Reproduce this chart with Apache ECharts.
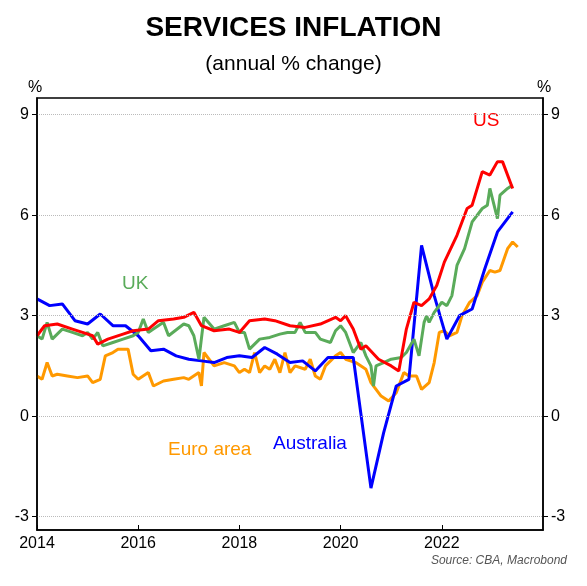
<!DOCTYPE html>
<html>
<head>
<meta charset="utf-8">
<script src="https://cdn.jsdelivr.net/npm/echarts@6/dist/echarts.min.js"></script>
<style>html,body{margin:0;background:#fff}#c{width:587px;height:586px}</style>
</head>
<body>
<div id="c"></div>
<script>
// [decimal year, annual % change]
const australia = [[2014.0,3.5],[2014.25,3.3],[2014.5,3.35],[2014.75,2.85],[2015.0,2.75],[2015.25,3.05],[2015.5,2.7],[2015.75,2.7],[2016.0,2.4],[2016.25,1.95],[2016.5,2.0],[2016.75,1.8],[2017.0,1.7],[2017.25,1.65],[2017.5,1.6],[2017.75,1.75],[2018.0,1.8],[2018.25,1.75],[2018.5,2.05],[2018.75,1.85],[2019.0,1.6],[2019.25,1.65],[2019.5,1.35],[2019.75,1.75],[2020.0,1.75],[2020.25,1.75],[2020.6,-2.15],[2020.85,-0.5],[2021.1,0.9],[2021.35,1.1],[2021.6,5.1],[2021.85,3.6],[2022.1,2.3],[2022.35,3.0],[2022.6,3.2],[2022.85,4.4],[2023.1,5.5],[2023.4,6.1]];
const us = [[2014.0,2.4],[2014.15,2.7],[2014.4,2.75],[2014.7,2.6],[2014.9,2.5],[2015.1,2.4],[2015.2,2.15],[2015.4,2.3],[2015.7,2.45],[2015.9,2.55],[2016.2,2.6],[2016.4,2.85],[2016.7,2.9],[2016.9,2.95],[2017.1,3.1],[2017.25,2.7],[2017.5,2.55],[2017.8,2.6],[2018.0,2.5],[2018.2,2.85],[2018.5,2.9],[2018.7,2.85],[2019.0,2.7],[2019.3,2.65],[2019.6,2.75],[2019.9,2.95],[2020.0,2.85],[2020.1,3.0],[2020.25,2.6],[2020.4,2.0],[2020.5,2.1],[2020.75,1.7],[2021.0,1.5],[2021.15,1.35],[2021.3,2.6],[2021.45,3.4],[2021.6,3.3],[2021.75,3.5],[2021.9,3.9],[2022.05,4.6],[2022.3,5.4],[2022.5,6.2],[2022.6,6.3],[2022.8,7.3],[2022.95,7.2],[2023.1,7.6],[2023.2,7.6],[2023.4,6.8]];
const uk = [[2014.0,2.4],[2014.1,2.3],[2014.2,2.8],[2014.3,2.3],[2014.5,2.6],[2014.7,2.5],[2014.9,2.4],[2015.0,2.5],[2015.1,2.3],[2015.2,2.5],[2015.3,2.1],[2015.5,2.2],[2015.7,2.3],[2015.9,2.4],[2016.0,2.5],[2016.1,2.9],[2016.2,2.5],[2016.3,2.6],[2016.5,2.8],[2016.6,2.4],[2016.9,2.75],[2017.0,2.7],[2017.1,2.4],[2017.2,1.7],[2017.3,2.95],[2017.5,2.6],[2017.7,2.7],[2017.9,2.8],[2018.0,2.5],[2018.1,2.5],[2018.2,2.0],[2018.4,2.3],[2018.6,2.35],[2018.8,2.45],[2018.95,2.5],[2019.1,2.5],[2019.2,2.8],[2019.3,2.5],[2019.5,2.5],[2019.6,2.3],[2019.8,2.2],[2019.9,2.55],[2020.0,2.7],[2020.1,2.5],[2020.25,1.9],[2020.4,2.2],[2020.5,1.8],[2020.6,1.5],[2020.65,0.9],[2020.7,1.5],[2020.85,1.6],[2021.0,1.7],[2021.2,1.75],[2021.3,1.9],[2021.45,2.3],[2021.55,1.8],[2021.65,2.8],[2021.7,3.0],[2021.75,2.8],[2021.85,3.1],[2022.0,3.4],[2022.1,3.3],[2022.2,3.6],[2022.3,4.5],[2022.45,5.0],[2022.6,5.8],[2022.8,6.2],[2022.9,6.3],[2022.95,6.8],[2023.1,5.9],[2023.15,6.6],[2023.3,6.8],[2023.4,6.9]];
const euro = [[2014.0,1.2],[2014.1,1.1],[2014.2,1.6],[2014.3,1.2],[2014.4,1.25],[2014.6,1.2],[2014.8,1.15],[2015.0,1.2],[2015.1,1.0],[2015.25,1.1],[2015.35,1.8],[2015.5,1.9],[2015.6,2.0],[2015.8,2.0],[2015.9,1.25],[2016.0,1.1],[2016.2,1.3],[2016.3,0.9],[2016.5,1.05],[2016.7,1.1],[2016.9,1.15],[2017.0,1.1],[2017.2,1.3],[2017.25,0.9],[2017.3,1.9],[2017.5,1.5],[2017.7,1.6],[2017.9,1.5],[2018.0,1.3],[2018.1,1.4],[2018.2,1.3],[2018.3,1.9],[2018.4,1.3],[2018.5,1.5],[2018.6,1.4],[2018.7,1.7],[2018.8,1.3],[2018.9,1.9],[2019.0,1.3],[2019.1,1.5],[2019.3,1.4],[2019.4,1.7],[2019.5,1.2],[2019.6,1.1],[2019.7,1.5],[2019.9,1.8],[2020.0,1.9],[2020.1,1.7],[2020.3,1.6],[2020.5,1.4],[2020.6,1.0],[2020.8,0.6],[2020.95,0.45],[2021.1,0.7],[2021.25,1.3],[2021.35,1.2],[2021.5,1.2],[2021.6,0.8],[2021.75,1.0],[2021.85,1.6],[2021.95,2.5],[2022.05,2.55],[2022.15,2.4],[2022.3,2.5],[2022.4,3.0],[2022.55,3.4],[2022.7,3.6],[2022.8,4.0],[2022.95,4.35],[2023.05,4.3],[2023.15,4.35],[2023.3,5.0],[2023.4,5.2],[2023.5,5.05]];
const yTicks = [-3, 0, 3, 6, 9];
const xTicks = [2014, 2016, 2018, 2020, 2022];

const chart = echarts.init(document.getElementById('c'));
const font = 'Liberation Sans, Arial, sans-serif';
const line = (name, data, color) => ({
    name, type: 'line', data, showSymbol: false, animation: false,
    lineStyle: { color, width: 3 }, itemStyle: { color }
});
const yAxisBase = {
    type: 'value', min: -3.4, max: 9.5,
    splitLine: { show: false },
    axisLine: { show: true, lineStyle: { color: '#000', width: 1.5 } },
    axisTick: { show: true, customValues: yTicks, length: 5, inside: false, lineStyle: { color: '#000' } },
    axisLabel: { customValues: yTicks, color: '#000', fontSize: 16, fontFamily: font }
};
const gridSeries = {
    type: 'line', data: [], silent: true,
    markLine: {
        symbol: 'none', silent: true, label: { show: false }, animation: false,
        lineStyle: { color: '#bbb', type: 'dotted', width: 1 },
        data: yTicks.map(v => ({ yAxis: v }))
    }
};

chart.setOption({
    backgroundColor: '#fff',
    animation: false,
    grid: { left: 37, right: 44, top: 98, bottom: 56 },
    xAxis: {
        type: 'value', min: 2014, max: 2024,
        splitLine: { show: false },
        axisLine: { show: true, onZero: false, lineStyle: { color: '#000', width: 1.5 } },
        axisTick: { customValues: xTicks, length: 5, inside: true, lineStyle: { color: '#000' } },
        axisLabel: { customValues: xTicks, formatter: v => String(v), color: '#000', fontSize: 16, fontFamily: font, margin: 6 }
    },
    yAxis: [
        { ...yAxisBase, position: 'left' },
        { ...yAxisBase, position: 'right' }
    ],
    series: [
        gridSeries,
        line('Euro area', euro, '#ff9900'),
        line('Australia', australia, '#0000ff'),
        line('UK', uk, '#5aab5a'),
        line('US', us, '#ff0000')
    ],
    graphic: [
        { type: 'rect', shape: { x: 37, y: 98, width: 506, height: 432 }, style: { fill: 'none', stroke: '#000', lineWidth: 1.5 }, z: 10 },
        { type: 'text', left: 'center', top: 14, style: { text: 'SERVICES INFLATION', font: 'bold 28px ' + font, fill: '#000' } },
        { type: 'text', left: 'center', top: 54, style: { text: '(annual % change)', font: '21px ' + font, fill: '#000' } },
        { type: 'text', left: 28, top: 80, style: { text: '%', font: '16px ' + font, fill: '#000' } },
        { type: 'text', left: 537, top: 80, style: { text: '%', font: '16px ' + font, fill: '#000' } },
        { type: 'text', left: 473, top: 111, style: { text: 'US', font: '19px ' + font, fill: '#ff0000' } },
        { type: 'text', left: 122, top: 274, style: { text: 'UK', font: '19px ' + font, fill: '#5aab5a' } },
        { type: 'text', left: 168, top: 440, style: { text: 'Euro area', font: '19px ' + font, fill: '#ff9900' } },
        { type: 'text', left: 273, top: 434, style: { text: 'Australia', font: '19px ' + font, fill: '#0000ff' } },
        { type: 'text', right: 20, top: 555, style: { text: 'Source: CBA, Macrobond', font: 'italic 12px ' + font, fill: '#555' } }
    ]
});
</script>
</body>
</html>
